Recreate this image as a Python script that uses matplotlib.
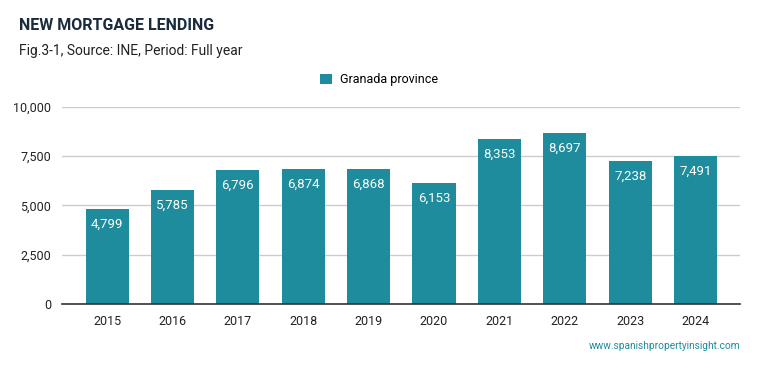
import matplotlib.pyplot as plt

plt.rcParams['font.family'] = ['Roboto', 'DejaVu Sans']

years = ['2015', '2016', '2017', '2018', '2019', '2020', '2021', '2022', '2023', '2024']
lending = [4799, 5785, 6796, 6874, 6868, 6153, 8353, 8697, 7238, 7491]

bar_color = '#1e8c9c'

fig = plt.figure(figsize=(7.59, 3.71), dpi=100)
ax = fig.add_axes([0.0817, 0.1806, 0.8933, 0.531])

bars = ax.bar(range(len(years)), lending, width=0.66, color=bar_color, zorder=2,
              label='Granada province')

# value labels just inside the top of each bar
for b, v in zip(bars, lending):
    ax.annotate(f'{v:,}', (b.get_x() + b.get_width() / 2, v), xytext=(0, -11),
                textcoords='offset points', ha='center', va='center',
                color='white', fontsize=9.5)

ax.set_xlim(-0.69, 9.68)
ax.set_ylim(0, 10000)
ax.set_yticks([0, 2500, 5000, 7500, 10000])
ax.yaxis.set_major_formatter(plt.FuncFormatter(lambda v, p: f'{int(v):,}'))
ax.set_xticks(range(len(years)))
ax.set_xticklabels(years)
ax.grid(axis='y', color='#cccccc', linewidth=1, zorder=0)
for s in ['top', 'right', 'left']:
    ax.spines[s].set_visible(False)
ax.spines['bottom'].set_color('#333333')
ax.spines['bottom'].set_linewidth(1.2)
ax.tick_params(length=0, labelsize=9, colors='#222222', pad=8)

fig.text(0.025, 0.93, 'NEW MORTGAGE LENDING', fontsize=11.5, fontweight='bold', color='#1a2b3c', va='center')
fig.text(0.025, 0.862, 'Fig.3-1, Source: INE, Period: Full year', fontsize=10, color='#222222', va='center')
fig.legend(handles=[bars], loc='center', bbox_to_anchor=(0.5, 0.785), frameon=False,
           fontsize=9, handlelength=0.9, handleheight=0.9, handletextpad=0.7)
fig.text(0.975, 0.068, 'www.spanishpropertyinsight.com', fontsize=7.3, color='#1e8c9c', ha='right', va='center')

fig.savefig('out.png', dpi=100)
